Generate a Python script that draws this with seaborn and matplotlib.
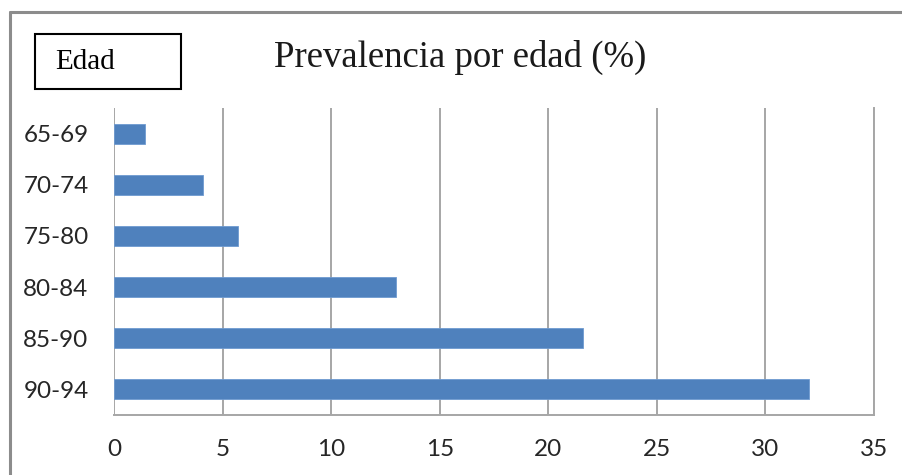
import matplotlib
matplotlib.use("Agg")
import matplotlib.pyplot as plt
from matplotlib.patches import Rectangle
from matplotlib.lines import Line2D
import seaborn as sns
import pandas as pd

# Prevalence by age group (%)
grupos = ["65-69", "70-74", "75-80", "80-84", "85-90", "90-94"]
prevalencia = [1.4, 4.1, 5.7, 13.0, 21.6, 32.0]
ticks_x = [0, 5, 10, 15, 20, 25, 30, 35]

df = pd.DataFrame({"grupo": grupos, "prevalencia": prevalencia})

sns.set_style("white")
plt.rcParams["font.family"] = ["Lato", "DejaVu Sans"]

W, H = 902, 475
fig = plt.figure(figsize=(W / 100, H / 100), dpi=100)
ax = fig.add_axes([114.3 / W, 1 - 415 / H, (874 - 114.3) / W, (415 - 108) / H])

sns.barplot(data=df, x="prevalencia", y="grupo", orient="h", color="#4F81BD",
            saturation=1, width=0.39, ax=ax, edgecolor="#6E9AD0", linewidth=0.6,
            zorder=3)

grid_c = "#A6A6A6"
ax.set_xlim(0, 35)
ax.set_xticks(ticks_x)
ax.set_xticklabels([str(t) for t in ticks_x])
ax.xaxis.grid(True, color=grid_c, linewidth=1.4, zorder=0)
ax.set_axisbelow(True)
for s in ["top", "left"]:
    ax.spines[s].set_visible(False)
ax.spines["bottom"].set_color(grid_c)
ax.spines["bottom"].set_linewidth(1.4)
ax.spines["right"].set_color(grid_c)
ax.spines["right"].set_linewidth(1.4)
ax.set_xlabel("")
ax.set_ylabel("")
ax.tick_params(axis="both", length=0, labelsize=17.5, colors="#262626")
ax.tick_params(axis="x", pad=17.5)
ax.tick_params(axis="y", pad=18.5)

# chart frame
frame_c = "#8C8C8C"
fig.add_artist(Line2D([10 / W, 10 / W], [0, 1 - 12 / H], transform=fig.transFigure,
                      color=frame_c, linewidth=2.2))
fig.add_artist(Line2D([10 / W, 1], [1 - 12 / H, 1 - 12 / H], transform=fig.transFigure,
                      color=frame_c, linewidth=2.2))

# "Edad" box
fig.add_artist(Rectangle((34.7 / W, 1 - 89 / H), (181 - 34.7) / W, (89 - 33.7) / H,
                         transform=fig.transFigure, fill=False, edgecolor="black",
                         linewidth=1.5))
fig.text(55 / W, 1 - 62 / H, "Edad", family="Liberation Serif", fontsize=21,
         ha="left", va="center", color="black")

fig.text(460 / W, 1 - 57 / H, "Prevalencia por edad (%)", family="Liberation Serif",
         fontsize=26.5, ha="center", va="center", color="#1a1a1a")

fig.savefig("out.png", dpi=100)
